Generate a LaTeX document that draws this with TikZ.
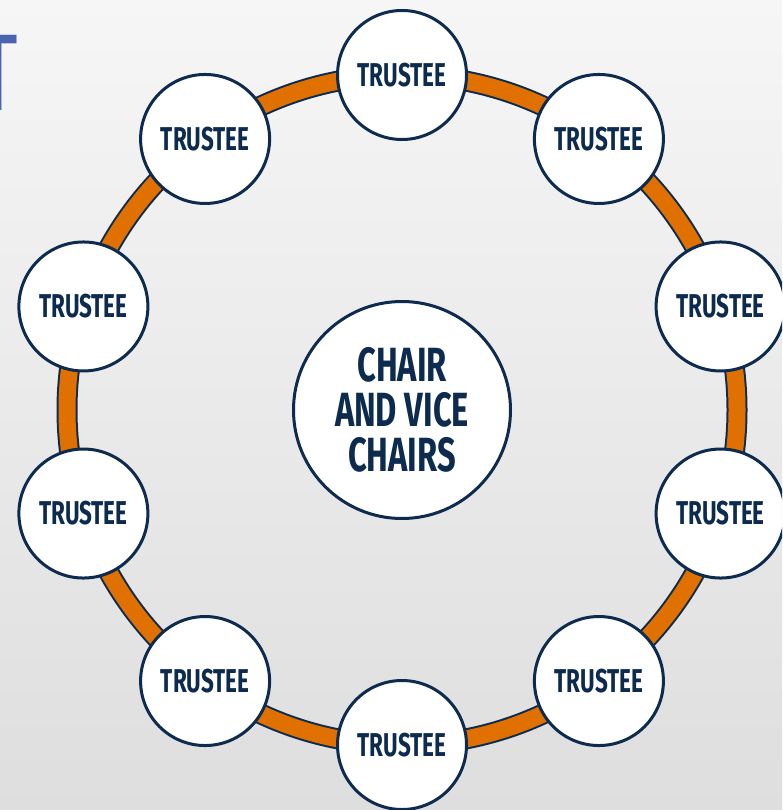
\documentclass[tikz,border=0pt]{standalone}
\usepackage{fontspec}
\newfontfamily\condfont[FakeStretch=0.68]{Fira Sans}
\newfontfamily\titlefont{Lato}
\definecolor{navy}{HTML}{0D2B4E}
\definecolor{ringorange}{HTML}{E07000}
\definecolor{titleblue}{HTML}{4A64B0}
\definecolor{bgtop}{HTML}{F6F6F6}
\definecolor{bgbot}{HTML}{DEDEDE}
\tikzset{
  member/.style={circle, draw=navy, line width=3pt, fill=white, minimum size=129pt, inner sep=0pt,
    text=navy, font=\condfont\bfseries\fontsize{33}{34}\selectfont},
  chairnode/.style={circle, draw=navy, line width=3pt, fill=white, minimum size=217pt, inner sep=0pt,
    text=navy, align=center, font=\condfont\bfseries\fontsize{48}{45}\selectfont},
  ringout/.style={draw=navy, line width=21pt},
  ringin/.style={draw=ringorange, line width=17pt},
}
\begin{document}
\begin{tikzpicture}[x=1pt, y=-1pt]
\useasboundingbox (0,0) rectangle (782,810);
\clip (0,0) rectangle (782,810);
\shade[top color=bgtop, bottom color=bgbot] (0,0) rectangle (782,810);
% partial title letter
\node[text=titleblue, font=\titlefont\fontsize{105}{105}\selectfont, xscale=0.62, anchor=north, inner sep=0pt] (title) at (-1,35) {T};
% ring
\coordinate (ctr) at (402,410);
\draw[ringout] (ctr) circle[radius=335pt];
\draw[ringin] (ctr) circle[radius=335pt];
% trustees
\foreach \i in {0,...,9}{
  \pgfmathsetmacro{\ang}{90-36*\i}
  \node[member] (t\i) at ({402+335*cos(\ang)},{410-335*sin(\ang)}) {TRUSTEE};
}
% center
\node[chairnode] (chair) at (402,410) {CHAIR\\AND VICE\\CHAIRS};
\end{tikzpicture}
\end{document}
